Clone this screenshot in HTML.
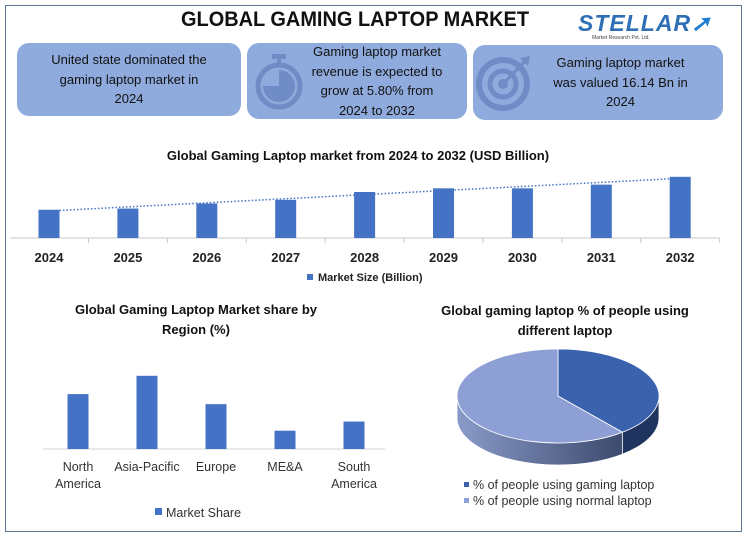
<!DOCTYPE html>
<html><head><meta charset="utf-8"><style>
body{margin:0;background:#fff;width:750px;height:538px;overflow:hidden;font-family:"Liberation Sans",sans-serif;}
#root{position:relative;width:750px;height:538px;}
.frame{position:absolute;left:5px;top:5px;width:737px;height:527px;border:1.5px solid #5a7390;box-sizing:border-box;}
.box{position:absolute;background:#8faadc;border-radius:12px;color:#111;font-size:13px;line-height:19.5px;text-align:center;display:flex;align-items:center;justify-content:center;}
svg text{font-family:"Liberation Sans",sans-serif;}
</style></head><body><div id="root">
<div class="frame"></div>
<div style="position:absolute;left:170px;top:8px;width:370px;text-align:center;font-weight:bold;font-size:21px;color:#111;transform:scaleX(0.95)">GLOBAL GAMING LAPTOP MARKET</div>
<div style="position:absolute;left:578px;top:10px;width:130px;height:36px">
 <div style="font-size:23px;font-weight:bold;color:#2e6fb5;letter-spacing:1px;font-style:italic">STELLAR<span style="color:#1e7fd0">➚</span></div>
 <div style="font-size:5px;color:#444;margin-top:-2px;margin-left:14px">Market Research Pvt. Ltd.</div>
</div>
<div class="box" style="left:17px;top:43px;width:224px;height:73px">United state dominated the<br>gaming laptop market in<br>2024</div>
<div class="box" style="left:247px;top:43px;width:220px;height:76px;padding-left:40px;box-sizing:border-box">Gaming laptop market<br>revenue is expected to<br>grow at 5.80% from<br>2024 to 2032</div>
<div class="box" style="left:473px;top:45px;width:250px;height:75px;padding-left:45px;box-sizing:border-box">Gaming laptop market<br>was valued 16.14 Bn in<br>2024</div>
<svg style="position:absolute;left:250px;top:52px" width="60" height="60">
 <rect x="22" y="2" width="14" height="5" fill="#6f8cc7"/><rect x="27" y="6" width="4" height="6" fill="#6f8cc7"/>
 <circle cx="29" cy="34" r="21" fill="none" stroke="#6f8cc7" stroke-width="5"/>
 <path d="M29 34 L29 18 A16 16 0 1 1 13 34 Z" fill="#6f8cc7"/>
</svg>
<svg style="position:absolute;left:474px;top:52px" width="64" height="64">
 <circle cx="29" cy="32" r="24" fill="none" stroke="#6f8cc7" stroke-width="6"/>
 <circle cx="29" cy="32" r="13" fill="none" stroke="#6f8cc7" stroke-width="5"/>
 <circle cx="29" cy="32" r="5" fill="#6f8cc7"/>
 <line x1="29" y1="32" x2="50" y2="10" stroke="#6f8cc7" stroke-width="3"/>
 <path d="M46 6 L56 4 L54 14 Z" fill="#6f8cc7"/>
</svg>
<svg id="c1" style="position:absolute;left:0;top:140px" width="750" height="150"></svg>
<svg id="c2" style="position:absolute;left:0;top:290px" width="390" height="240"></svg>
<svg id="c3" style="position:absolute;left:390px;top:290px" width="350" height="240"></svg>
<script>
const years=["2024","2025","2026","2027","2028","2029","2030","2031","2032"];
const marketSize=[16.14,16.4,17.5,18.3,20.0,20.8,20.8,21.6,23.3];
const regions=[["North","America"],["Asia-Pacific"],["Europe"],["ME&A"],["South","America"]];
const regionShare=[30,40,24.5,10,15];
const pieLabels=["% of people using gaming laptop","% of people using normal laptop"];
const pieValues=[39,61];
const NS="http://www.w3.org/2000/svg";
function mk(p,t,a){const e=document.createElementNS(NS,t);for(const k in a)e.setAttribute(k,a[k]);p.appendChild(e);return e;}
const c1=document.getElementById('c1');
let t=mk(c1,'text',{x:358,y:20,'text-anchor':'middle','font-size':13,'font-weight':'bold',fill:'#111'});t.textContent='Global Gaming Laptop market from 2024 to 2032 (USD Billion)';

const base1=98, x0=49, step=78.9;
const y1=v=>base1-(v-10)*4.6;
mk(c1,'line',{x1:10,y1:base1,x2:720,y2:base1,stroke:'#c8c8c8'});
years.forEach((yr,i)=>{const cx=x0+i*step;
 const b=mk(c1,'rect',{x:cx-10.5,y:y1(marketSize[i]),width:21,height:base1-y1(marketSize[i]),fill:'#4472c4'});
 
 
 const l=mk(c1,'text',{x:cx,y:base1+24,'text-anchor':'middle','font-size':13,'font-weight':'bold',fill:'#222'});l.textContent=yr;
 
 
 mk(c1,'line',{x1:cx+step/2,y1:base1,x2:cx+step/2,y2:base1+5,stroke:'#c8c8c8'});
});
{const n=marketSize.length;let sx=0,sy=0,sxy=0,sxx=0;marketSize.forEach((v,i)=>{sx+=i;sy+=v;sxy+=i*v;sxx+=i*i;});
const m=(n*sxy-sx*sy)/(n*sxx-sx*sx),b=(sy-m*sx)/n;
const tl=mk(c1,'line',{x1:x0,y1:y1(b),x2:x0+(n-1)*step+12,y2:y1(b+m*(n-1+12/step)),stroke:'#4472c4','stroke-width':1.5,'stroke-dasharray':'1.5 2'});

}
mk(c1,'rect',{x:307,y:134,width:6,height:6,fill:'#4472c4'});
t=mk(c1,'text',{x:318,y:141,'font-size':11,'font-weight':'bold',fill:'#222'});t.textContent='Market Size (Billion)';

const c2=document.getElementById('c2');
t=mk(c2,'text',{x:196,y:24,'text-anchor':'middle','font-size':13,'font-weight':'bold',fill:'#111'});t.textContent='Global Gaming Laptop Market share by';
t=mk(c2,'text',{x:196,y:44,'text-anchor':'middle','font-size':13,'font-weight':'bold',fill:'#111'});t.textContent='Region (%)';
const base2=159,rx0=78,rstep=69;const y2=v=>base2-v*1.83;
mk(c2,'line',{x1:43,y1:base2,x2:385,y2:base2,stroke:'#d0d0d0'});
regions.forEach((r,i)=>{const cx=rx0+i*rstep;
 const b=mk(c2,'rect',{x:cx-10.5,y:y2(regionShare[i]),width:21,height:base2-y2(regionShare[i]),fill:'#4472c4'});
 
 
 r.forEach((ln,j)=>{const l=mk(c2,'text',{x:cx,y:base2+22+j*17,'text-anchor':'middle','font-size':12.5,fill:'#333'});l.textContent=ln;});
});
mk(c2,'rect',{x:155,y:218,width:7,height:7,fill:'#4472c4'});
t=mk(c2,'text',{x:166,y:227,'font-size':12.5,fill:'#333'});t.textContent='Market Share';

const c3=document.getElementById('c3');
t=mk(c3,'text',{x:175,y:25,'text-anchor':'middle','font-size':13,'font-weight':'bold',fill:'#111'});t.textContent='Global gaming laptop % of people using';
t=mk(c3,'text',{x:175,y:45,'text-anchor':'middle','font-size':13,'font-weight':'bold',fill:'#111'});t.textContent='different laptop';
const defs=mk(c3,'defs',{});
const g=mk(defs,'linearGradient',{id:'sideG',x1:0,y1:0,x2:1,y2:0});
mk(g,'stop',{offset:0,'stop-color':'#8a9bc8'});mk(g,'stop',{offset:1,'stop-color':'#3c4a6e'});
const cx=168,cy=106,rx=101,ry=47,d=22;
const tot=pieValues.reduce((a,b)=>a+b,0);
const pt=(a,dy)=>[cx+rx*Math.sin(a),cy-ry*Math.cos(a)+(dy||0)];
const aEnd=pieValues[0]/tot*2*Math.PI;
let p1=pt(aEnd),p2=pt(Math.PI*1.5);
mk(c3,'path',{d:`M${p1[0]} ${p1[1]} A${rx} ${ry} 0 0 1 ${p2[0]} ${p2[1]} L${p2[0]} ${p2[1]+d} A${rx} ${ry} 0 0 0 ${p1[0]} ${p1[1]+d} Z`,fill:'url(#sideG)',stroke:'#fff','stroke-width':0.8});
let q1=pt(Math.PI/2);
mk(c3,'path',{d:`M${q1[0]} ${q1[1]} A${rx} ${ry} 0 0 1 ${p1[0]} ${p1[1]} L${p1[0]} ${p1[1]+d} A${rx} ${ry} 0 0 0 ${q1[0]} ${q1[1]+d} Z`,fill:'#1f3560',stroke:'#fff','stroke-width':0.8});
const s0=pt(0);
let sl=mk(c3,'path',{d:`M${cx} ${cy} L${s0[0]} ${s0[1]} A${rx} ${ry} 0 ${aEnd>Math.PI?1:0} 1 ${p1[0]} ${p1[1]} Z`,fill:'#3a62ad',stroke:'#fff','stroke-width':0.8});

sl=mk(c3,'path',{d:`M${cx} ${cy} L${p1[0]} ${p1[1]} A${rx} ${ry} 0 ${(2*Math.PI-aEnd)>Math.PI?1:0} 1 ${s0[0]} ${s0[1]} Z`,fill:'#8d9fd4',stroke:'#fff','stroke-width':0.8});

const lc=['#3a62ad','#8d9fd4'];
pieLabels.forEach((lb,i)=>{mk(c3,'rect',{x:74,y:192+i*16,width:5,height:5,fill:lc[i]});
 const l=mk(c3,'text',{x:83,y:199+i*16,'font-size':12.5,fill:'#333'});l.textContent=lb;
 
 });
</script></div></body></html>
